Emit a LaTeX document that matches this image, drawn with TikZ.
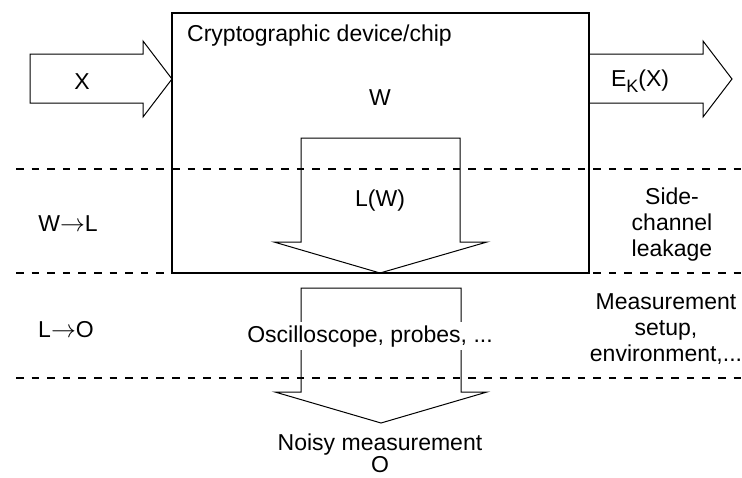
\documentclass[tikz,border=0pt]{standalone}
\usepackage{fontspec}
\setmainfont{Liberation Sans}
\begin{document}
\begin{tikzpicture}[x=1pt,y=-1pt,
  blockarrow/.style={draw=black, line width=1pt, line join=miter},
  separator/.style={draw=black, line width=2pt, dash pattern=on 7.6pt off 8pt},
  chipbox/.style={draw=black, line width=2.5pt},
  lbl/.style={font=\fontsize{23}{26}\selectfont, inner sep=0pt, align=center}]
\useasboundingbox (0,0) rectangle (742,477);

% the device
\draw[chipbox] (172,13) coordinate (chipNW) rectangle (589,273) coordinate (chipSE);

% plaintext in, ciphertext out
\draw[blockarrow] (30,54) -- (143,54) -- (143,41) -- (172,79) coordinate (intip)
  -- (143,117) -- (143,103) -- (30,103) -- cycle;
\draw[blockarrow] (589,54) -- (703,54) -- (703,41) -- (732,79) coordinate (outtip)
  -- (703,117) -- (703,103) -- (589,103);

% leakage and measurement arrows
\draw[blockarrow] (301,138) -- (460,138) -- (460,242) -- (487,242)
  -- (380,273) coordinate (leaktip) -- (274,242) -- (301,242) -- cycle;
\draw[blockarrow] (301,288) -- (461,288) -- (461,392) -- (487,392)
  -- (381,423) coordinate (meastip) -- (275,392) -- (301,392) -- cycle;

% layer separators
\draw[separator] (16,169) coordinate (sepA) -- (742,169);
\draw[separator] (16,273) coordinate (sepB) -- (742,273);
\draw[separator] (16,378) coordinate (sepC) -- (742,378);

% labels (anchor=base sits on the last line of a multi-line label)
\node[lbl, anchor=base west] (title) at (187,41) {Cryptographic device/chip};
\node[lbl, anchor=base] (xin) at (82,89) {X};
\node[lbl, anchor=base] (xout) at (640,86) {E\raisebox{-0.28em}{\fontsize{18}{18}\selectfont K}(X)};
\node[lbl, anchor=base] (w) at (380,105) {W};
\node[lbl, anchor=base] (lw) at (380,206) {L(W)};
\node[lbl, anchor=base] (wl) at (68,231) {W$\rightarrow$L};
\node[lbl, anchor=base] (lo) at (66,337) {L$\rightarrow$O};
\node[lbl, anchor=base] (osc) at (370,342) [fill=white, inner xsep=1pt, inner ysep=3pt] {Oscilloscope, probes, ...};
\node[lbl, anchor=base] (sidech) at (672,256) {Side-\\channel\\leakage};
\node[lbl, anchor=base] (setup) at (666,361) {Measurement\\setup,\\environment,...};
\node[lbl, anchor=base] (noisy) at (380,472) {Noisy measurement\\[-4pt]O};
\end{tikzpicture}
\end{document}
